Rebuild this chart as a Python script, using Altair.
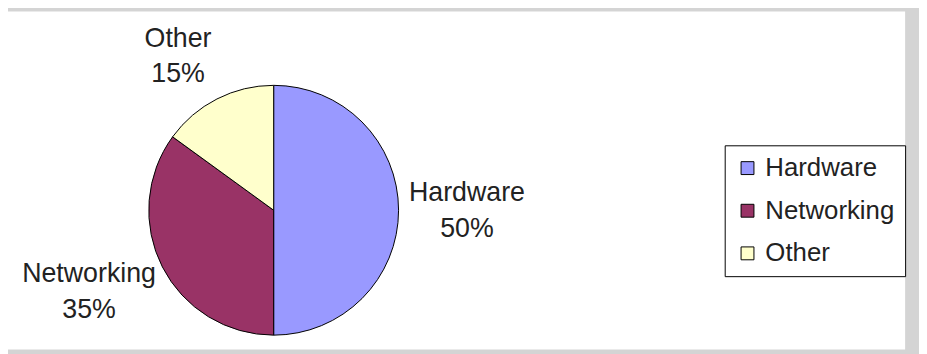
import altair as alt
import pandas as pd

categories = ["Hardware", "Networking", "Other"]
values = [50, 35, 15]
colors = ["#9999FF", "#993366", "#FFFFCC"]

total = sum(values)
df = pd.DataFrame({
    "category": categories,
    "value": values,
    "idx": list(range(len(categories))),
    "label": [f"{c}\n{round(v * 100 / total)}%" for c, v in zip(categories, values)],
})

CX, CY, R = 268, 202.5, 126
FONT = "Liberation Sans"
TEXT_COLOR = "#222222"

bg = alt.Chart(alt.Data(values=[{}])).mark_rect(color="white").encode(
    x=alt.value(0), x2=alt.value(905), y=alt.value(2), y2=alt.value(343)
)

theta = alt.Theta("value:Q", stack=True)
order = alt.Order("idx:Q")

pie = alt.Chart(df).mark_arc(radius=R, stroke="black", strokeWidth=1).encode(
    theta=theta,
    order=order,
    x=alt.value(CX),
    y=alt.value(CY),
    color=alt.Color(
        "category:N",
        sort=categories,
        scale=alt.Scale(domain=categories, range=colors),
        legend=alt.Legend(
            title=None,
            orient="none",
            legendX=723,
            legendY=137,
            symbolType="square",
            symbolSize=169,
            symbolStrokeColor="black",
            symbolStrokeWidth=1,
            labelFontSize=26,
            labelFont=FONT,
            labelColor=TEXT_COLOR,
            labelOffset=5,
            strokeColor="black",
            fillColor="white",
            padding=10,
            rowPadding=17,
        ),
    ),
)

label_style = {
    "Hardware": dict(radius=195, dx=0, dy=-17),
    "Networking": dict(radius=209, dx=0, dy=-30),
    "Other": dict(radius=175, dx=-17, dy=-17),
}

label_layers = []
for c in categories:
    st = label_style[c]
    label_layers.append(
        alt.Chart(df).mark_text(
            font=FONT, fontSize=27, color=TEXT_COLOR, lineBreak="\n", lineHeight=36,
            align="center", baseline="middle", **st
        ).encode(
            theta=theta,
            order=order,
            x=alt.value(CX),
            y=alt.value(CY),
            text=alt.condition(f"datum.category == '{c}'", alt.Text("label:N"), alt.value("")),
        )
    )

chart = alt.layer(bg, pie, *label_layers).properties(
    width=919, height=346, autosize="none", padding=0, background="#d4d4d4"
).configure_view(stroke=None)

chart.save("out.html", embed_options={"renderer": "svg", "actions": False})
